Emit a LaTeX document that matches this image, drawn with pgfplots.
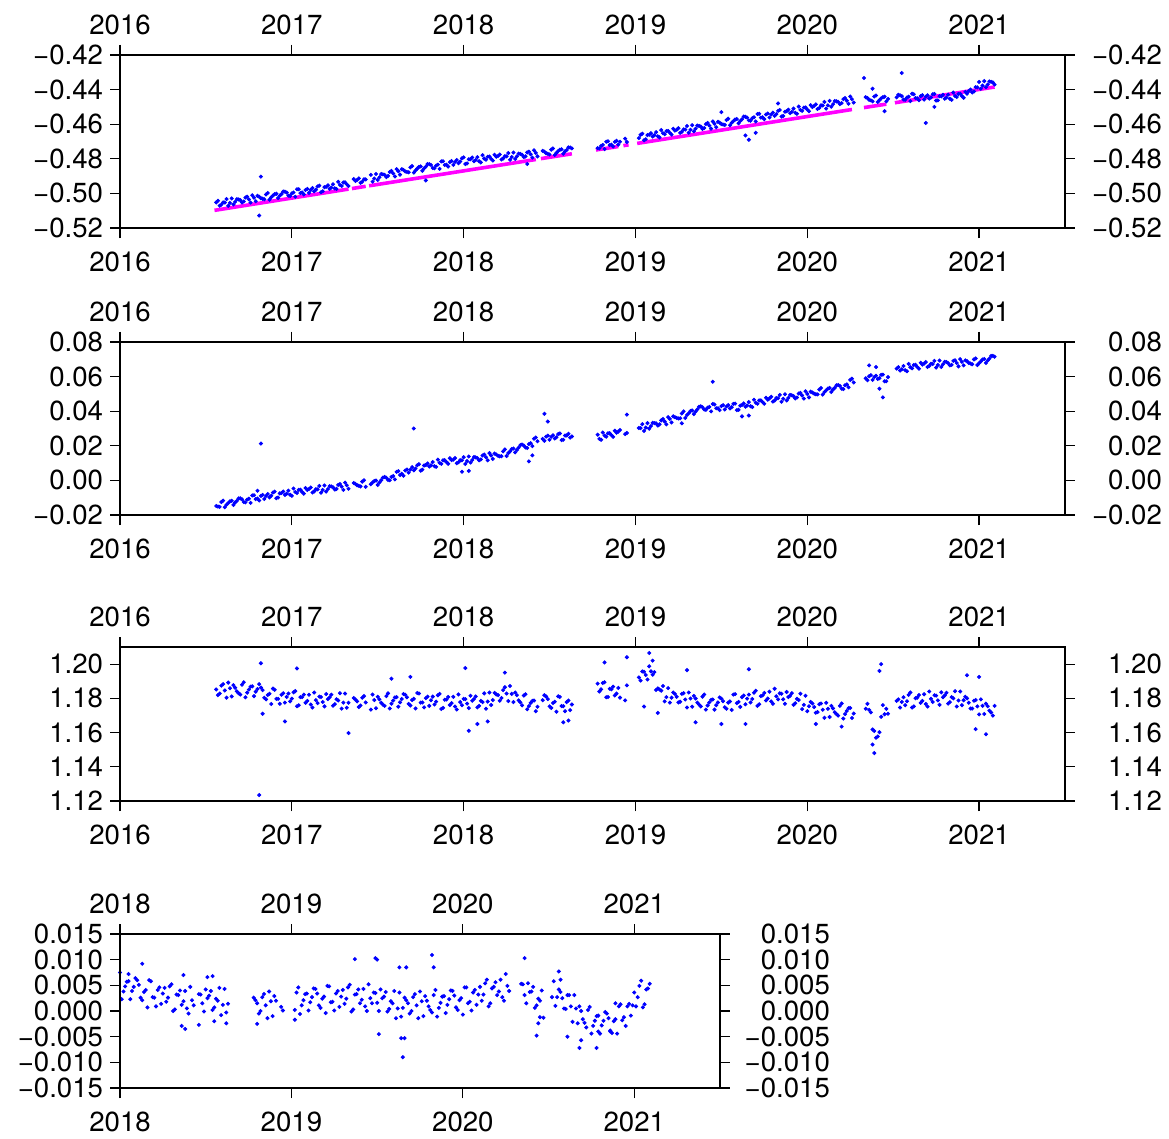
\documentclass[border=0pt]{standalone}
\usepackage{fontspec}
\setmainfont{TeX Gyre Heros}
\usepackage{pgfplots}
\usepackage{pgfplotstable}
\pgfplotsset{compat=1.18}
\definecolor{fitline}{RGB}{255,0,255}
\definecolor{dots}{RGB}{0,0,255}

% t = decimal year; a, b, c = panels 1-3; d = panel 4
\pgfplotstableread{
t a b c d
2016.56 -0.5052 -0.0148 1.1852 nan
2016.58 -0.5071 -0.0153 1.1828 nan
2016.60 -0.5052 -0.0117 1.1883 nan
2016.62 -0.5033 -0.0141 1.1804 nan
2016.64 -0.5055 -0.0121 1.1859 nan
2016.66 -0.5064 -0.0142 1.1877 nan
2016.68 -0.5033 -0.0119 1.1841 nan
2016.70 -0.5039 -0.0104 1.1822 nan
2016.72 -0.5047 -0.0125 1.1894 nan
2016.74 -0.5019 -0.0111 1.1833 nan
2016.76 -0.5053 -0.0130 1.1868 nan
2016.78 -0.5025 -0.0086 1.1813 nan
2016.80 -0.5014 -0.0105 1.1854 nan
2016.82 -0.5028 -0.0090 1.1863 nan
2016.84 -0.5034 -0.0107 1.1803 nan
2016.86 -0.4998 -0.0079 1.1820 nan
2016.88 -0.5023 -0.0089 1.1767 nan
2016.90 -0.5005 -0.0065 1.1850 nan
2016.92 -0.5027 -0.0099 1.1797 nan
2016.94 -0.5004 -0.0073 1.1821 nan
2016.96 -0.4990 -0.0084 1.1775 nan
2016.98 -0.5013 -0.0059 1.1828 nan
2017.00 -0.5000 -0.0089 1.1798 nan
2017.02 -0.5019 -0.0067 1.1842 nan
2017.04 -0.4976 -0.0055 1.1759 nan
2017.06 -0.4995 -0.0067 1.1807 nan
2017.08 -0.4980 -0.0044 1.1774 nan
2017.10 -0.4997 -0.0050 1.1821 nan
2017.12 -0.4969 -0.0070 1.1746 nan
2017.14 -0.4979 -0.0051 1.1790 nan
2017.16 -0.4955 -0.0032 1.1810 nan
2017.18 -0.4988 -0.0055 1.1779 nan
2017.20 -0.4962 -0.0065 1.1825 nan
2017.22 -0.4973 -0.0033 1.1806 nan
2017.24 -0.4947 -0.0040 1.1757 nan
2017.26 -0.4975 -0.0049 1.1795 nan
2017.28 -0.4951 -0.0021 1.1830 nan
2017.30 -0.4937 -0.0055 1.1775 nan
2017.32 -0.4947 -0.0028 1.1745 nan
2017.36 -0.4917 -0.0015 1.1802 nan
2017.38 -0.4922 -0.0028 1.1782 nan
2017.40 -0.4939 -0.0035 1.1758 nan
2017.42 -0.4918 0.0001 1.1813 nan
2017.46 -0.4893 -0.0022 1.1734 nan
2017.48 -0.4914 -0.0004 1.1790 nan
2017.50 -0.4922 -0.0026 1.1809 nan
2017.52 -0.4888 0.0001 1.1774 nan
2017.54 -0.4893 0.0020 1.1756 nan
2017.56 -0.4899 0.0003 1.1829 nan
2017.58 -0.4870 0.0020 1.1769 nan
2017.60 -0.4902 0.0006 1.1805 nan
2017.62 -0.4872 0.0053 1.1751 nan
2017.64 -0.4860 0.0038 1.1796 nan
2017.66 -0.4873 0.0057 1.1821 nan
2017.68 -0.4878 0.0045 1.1767 nan
2017.70 -0.4842 0.0077 1.1790 nan
2017.72 -0.4867 0.0069 1.1741 nan
2017.74 -0.4847 0.0094 1.1828 nan
2017.76 -0.4869 0.0062 1.1776 nan
2017.78 -0.4845 0.0089 1.1801 nan
2017.80 -0.4831 0.0080 1.1756 nan
2017.82 -0.4853 0.0106 1.1810 nan
2017.84 -0.4839 0.0078 1.1781 nan
2017.86 -0.4858 0.0102 1.1826 nan
2017.88 -0.4814 0.0116 1.1744 nan
2017.90 -0.4834 0.0106 1.1793 nan
2017.92 -0.4819 0.0128 1.1761 nan
2017.94 -0.4835 0.0120 1.1809 nan
2017.96 -0.4807 0.0099 1.1735 nan
2017.98 -0.4816 0.0117 1.1778 nan
2018.00 -0.4792 0.0134 1.1797 0.0075
2018.02 -0.4827 0.0112 1.1769 0.0038
2018.04 -0.4802 0.0103 1.1815 0.0057
2018.06 -0.4814 0.0135 1.1796 0.0023
2018.08 -0.4790 0.0129 1.1747 0.0047
2018.10 -0.4821 0.0121 1.1785 0.0060
2018.12 -0.4799 0.0149 1.1829 0.0026
2018.14 -0.4788 0.0116 1.1781 0.0037
2018.16 -0.4800 0.0144 1.1761 0.0007
2018.18 -0.4777 0.0155 1.1832 0.0058
2018.20 -0.4784 0.0142 1.1819 0.0026
2018.22 -0.4804 0.0140 1.1802 0.0041
2018.24 -0.4785 0.0179 1.1865 0.0014
2018.26 -0.4767 0.0158 1.1784 0.0045
2018.28 -0.4790 0.0181 1.1826 0.0026
2018.30 -0.4801 0.0162 1.1834 0.0052
2018.32 -0.4770 0.0189 1.1788 0.0003
2018.34 -0.4777 0.0207 1.1759 0.0031
2018.36 -0.4786 0.0190 1.1824 0.0012
2018.38 -0.4759 0.0210 1.1755 0.0039
2018.40 -0.4793 0.0198 1.1785 -0.0005
2018.42 -0.4766 0.0248 1.1725 0.0021
2018.46 -0.4754 0.0240 1.1789 0.0033
2018.48 -0.4768 0.0253 1.1811 0.0015
2018.50 -0.4775 0.0235 1.1753 0.0042
2018.52 -0.4740 0.0261 1.1773 0.0030
2018.54 -0.4766 0.0249 1.1722 0.0002
2018.56 -0.4748 0.0271 1.1808 0.0024
2018.58 -0.4771 0.0235 1.1754 0.0045
2018.60 -0.4749 0.0260 1.1778 0.0012
2018.62 -0.4735 0.0247 1.1731 -0.0003
2018.78 -0.4738 0.0264 1.1886 0.0026
2018.80 -0.4725 0.0235 1.1853 0.0015
2018.82 -0.4744 0.0259 1.1894 0.0000
2018.84 -0.4699 0.0272 1.1808 0.0033
2018.86 -0.4718 0.0262 1.1853 -0.0014
2018.88 -0.4702 0.0287 1.1817 0.0019
2018.90 -0.4718 0.0282 1.1861 0.0029
2018.94 -0.4684 0.0268 1.1788 0.0008
2019.02 -0.4680 0.0303 1.1922 0.0002
2019.04 -0.4655 0.0325 1.1957 0.0046
2019.06 -0.4687 0.0305 1.1936 0.0011
2019.08 -0.4661 0.0299 1.1987 0.0033
2019.10 -0.4671 0.0333 1.1938 0.0001
2019.12 -0.4646 0.0330 1.1849 0.0027
2019.14 -0.4676 0.0324 1.1852 0.0043
2019.16 -0.4652 0.0355 1.1872 0.0011
2019.18 -0.4640 0.0324 1.1807 0.0024
2019.20 -0.4650 0.0355 1.1775 -0.0004
2019.22 -0.4626 0.0370 1.1834 0.0048
2019.24 -0.4632 0.0361 1.1809 0.0018
2019.26 -0.4650 0.0359 1.1780 0.0034
2019.28 -0.4630 0.0399 1.1830 0.0008
2019.30 -0.4610 0.0378 1.1746 0.0041
2019.32 -0.4632 0.0401 1.1799 0.0024
2019.34 -0.4641 0.0383 1.1814 0.0051
2019.36 -0.4608 0.0410 1.1775 0.0003
2019.38 -0.4614 0.0428 1.1753 0.0033
2019.40 -0.4622 0.0410 1.1822 0.0015
2019.42 -0.4593 0.0420 1.1758 0.0043
2019.44 -0.4626 0.0399 1.1791 0.0000
2019.46 -0.4597 0.0439 1.1734 0.0025
2019.48 -0.4586 0.0417 1.1776 0.0036
2019.50 -0.4599 0.0429 1.1798 0.0016
2019.52 -0.4604 0.0410 1.1748 0.0042
2019.54 -0.4568 0.0435 1.1775 0.0028
2019.56 -0.4592 0.0423 1.1732 -0.0001
2019.58 -0.4573 0.0444 1.1825 0.0019
2019.60 -0.4595 0.0408 1.1779 0.0039
2019.62 -0.4571 0.0436 1.1807 0.0005
2019.64 -0.4557 0.0426 1.1765 -0.0011
2019.66 -0.4578 0.0453 1.1822 0.0026
2019.68 -0.4565 0.0424 1.1796 0.0015
2019.70 -0.4584 0.0449 1.1844 0.0000
2019.72 -0.4540 0.0462 1.1765 0.0033
2019.74 -0.4560 0.0453 1.1817 -0.0014
2019.76 -0.4544 0.0478 1.1788 0.0019
2019.78 -0.4561 0.0474 1.1839 0.0029
2019.80 -0.4533 0.0456 1.1768 0.0009
2019.82 -0.4542 0.0476 1.1812 -0.0003
2019.84 -0.4518 0.0494 1.1829 0.0041
2019.86 -0.4552 0.0472 1.1794 0.0006
2019.88 -0.4525 0.0462 1.1837 0.0028
2019.90 -0.4536 0.0494 1.1815 -0.0004
2019.92 -0.4510 0.0487 1.1762 0.0023
2019.94 -0.4540 0.0479 1.1797 0.0039
2019.96 -0.4517 0.0506 1.1827 0.0007
2019.98 -0.4504 0.0473 1.1762 0.0021
2020.00 -0.4515 0.0500 1.1725 -0.0007
2020.02 -0.4490 0.0513 1.1779 0.0046
2020.04 -0.4494 0.0501 1.1749 0.0018
2020.06 -0.4512 0.0497 1.1720 0.0036
2020.08 -0.4491 0.0534 1.1770 0.0012
2020.10 -0.4471 0.0511 1.1686 0.0047
2020.12 -0.4491 0.0531 1.1739 0.0032
2020.14 -0.4499 0.0511 1.1756 0.0061
2020.16 -0.4466 0.0535 1.1719 0.0015
2020.18 -0.4471 0.0551 1.1699 0.0047
2020.20 -0.4478 0.0530 1.1770 0.0031
2020.22 -0.4449 0.0550 1.1708 0.0061
2020.24 -0.4482 0.0538 1.1742 0.0020
2020.26 -0.4455 0.0588 1.1685 0.0049
2020.34 -0.4444 0.0590 1.1739 0.0053
2020.36 -0.4459 0.0602 1.1733 0.0031
2020.38 -0.4468 0.0581 1.1618 0.0054
2020.40 -0.4434 0.0605 1.1570 0.0038
2020.42 -0.4461 0.0591 1.1602 0.0006
2020.44 -0.4444 0.0611 1.1760 0.0024
2020.46 -0.4468 0.0573 1.1739 0.0040
2020.52 -0.4445 0.0646 1.1785 0.0027
2020.54 -0.4433 0.0635 1.1746 0.0010
2020.56 -0.4457 0.0661 1.1806 0.0042
2020.58 -0.4446 0.0631 1.1783 0.0025
2020.60 -0.4467 0.0654 1.1834 0.0004
2020.62 -0.4427 0.0667 1.1753 0.0031
2020.64 -0.4450 0.0656 1.1804 -0.0021
2020.66 -0.4438 0.0680 1.1774 0.0005
2020.68 -0.4458 0.0675 1.1824 0.0009
2020.70 -0.4433 0.0656 1.1752 -0.0016
2020.72 -0.4446 0.0674 1.1797 -0.0032
2020.74 -0.4425 0.0691 1.1818 0.0008
2020.76 -0.4462 0.0667 1.1788 -0.0029
2020.78 -0.4439 0.0656 1.1835 -0.0010
2020.80 -0.4453 0.0686 1.1817 -0.0044
2020.82 -0.4429 0.0678 1.1769 -0.0019
2020.84 -0.4459 0.0668 1.1807 -0.0005
2020.86 -0.4437 0.0694 1.1842 -0.0038
2020.88 -0.4425 0.0659 1.1787 -0.0020
2020.90 -0.4437 0.0685 1.1760 -0.0044
2020.92 -0.4413 0.0694 1.1809 0.0013
2020.94 -0.4408 0.0679 1.1774 -0.0012
2020.96 -0.4417 0.0671 1.1740 0.0009
2020.98 -0.4386 0.0705 1.1790 -0.0009
2021.00 -0.4356 0.0678 1.1706 0.0036
2021.02 -0.4377 0.0699 1.1756 0.0027
2021.04 -0.4386 0.0679 1.1769 0.0059
2021.06 -0.4353 0.0704 1.1728 0.0013
2021.08 -0.4358 0.0720 1.1699 0.0044
}\gps

% the days in between
\pgfplotstableread{
t a b c d
2016.57 -0.5043 -0.0151 1.1819 nan
2016.59 -0.5065 -0.0125 1.1874 nan
2016.61 -0.5053 -0.0155 1.1846 nan
2016.63 -0.5072 -0.0131 1.1892 nan
2016.65 -0.5029 -0.0118 1.1811 nan
2016.67 -0.5049 -0.0128 1.1862 nan
2016.69 -0.5035 -0.0104 1.1830 nan
2016.71 -0.5052 -0.0109 1.1879 nan
2016.73 -0.5024 -0.0127 1.1806 nan
2016.75 -0.5034 -0.0106 1.1851 nan
2016.77 -0.5011 -0.0087 1.1870 nan
2016.79 -0.5045 -0.0108 1.1839 nan
2016.81 -0.5019 -0.0116 1.1883 nan
2016.83 -0.5031 -0.0084 1.1848 nan
2016.85 -0.5006 -0.0090 1.1794 nan
2016.87 -0.5036 -0.0098 1.1827 nan
2016.89 -0.5013 -0.0070 1.1857 nan
2016.91 -0.5002 -0.0103 1.1797 nan
2016.93 -0.5013 -0.0075 1.1768 nan
2016.95 -0.4989 -0.0064 1.1830 nan
2016.97 -0.4995 -0.0077 1.1808 nan
2016.99 -0.5015 -0.0083 1.1782 nan
2017.01 -0.4995 -0.0047 1.1835 nan
2017.03 -0.4976 -0.0073 1.1754 nan
2017.05 -0.4998 -0.0054 1.1807 nan
2017.07 -0.5006 -0.0077 1.1822 nan
2017.09 -0.4974 -0.0055 1.1785 nan
2017.11 -0.4980 -0.0041 1.1764 nan
2017.13 -0.4988 -0.0064 1.1834 nan
2017.15 -0.4960 -0.0052 1.1772 nan
2017.17 -0.4993 -0.0071 1.1808 nan
2017.19 -0.4964 -0.0029 1.1753 nan
2017.21 -0.4953 -0.0050 1.1796 nan
2017.23 -0.4966 -0.0035 1.1821 nan
2017.25 -0.4971 -0.0053 1.1766 nan
2017.27 -0.4933 -0.0026 1.1788 nan
2017.29 -0.4957 -0.0036 1.1740 nan
2017.31 -0.4936 -0.0013 1.1828 nan
2017.33 -0.4957 -0.0048 1.1774 nan
2017.37 -0.4928 -0.0020 1.1793 nan
2017.39 -0.4913 -0.0031 1.1749 nan
2017.41 -0.4933 -0.0007 1.1804 nan
2017.43 -0.4919 -0.0037 1.1776 nan
2017.47 -0.4932 -0.0012 1.1822 nan
2017.49 -0.4888 -0.0001 1.1742 nan
2017.51 -0.4907 -0.0012 1.1794 nan
2017.53 -0.4890 0.0016 1.1763 nan
2017.55 -0.4906 0.0015 1.1813 nan
2017.57 -0.4876 0.0001 1.1741 nan
2017.59 -0.4885 0.0025 1.1787 nan
2017.61 -0.4860 0.0049 1.1807 nan
2017.63 -0.4892 0.0031 1.1777 nan
2017.65 -0.4865 0.0027 1.1825 nan
2017.67 -0.4876 0.0063 1.1806 nan
2017.69 -0.4850 0.0062 1.1758 nan
2017.71 -0.4880 0.0058 1.1797 nan
2017.73 -0.4857 0.0088 1.1831 nan
2017.75 -0.4844 0.0056 1.1775 nan
2017.77 -0.4855 0.0086 1.1747 nan
2017.79 -0.4830 0.0098 1.1810 nan
2017.81 -0.4836 0.0087 1.1789 nan
2017.83 -0.4855 0.0082 1.1764 nan
2017.85 -0.4834 0.0120 1.1818 nan
2017.87 -0.4815 0.0096 1.1738 nan
2017.89 -0.4836 0.0117 1.1792 nan
2017.91 -0.4845 0.0096 1.1808 nan
2017.93 -0.4813 0.0117 1.1772 nan
2017.95 -0.4818 0.0129 1.1752 nan
2017.97 -0.4826 0.0105 1.1823 nan
2017.99 -0.4797 0.0116 1.1760 nan
2018.01 -0.4830 0.0095 1.1795 0.0023
2018.03 -0.4803 0.0138 1.1743 0.0048
2018.05 -0.4793 0.0118 1.1786 0.0058
2018.07 -0.4807 0.0133 1.1811 0.0039
2018.09 -0.4814 0.0116 1.1756 0.0064
2018.11 -0.4779 0.0144 1.1778 0.0051
2018.13 -0.4805 0.0134 1.1739 0.0021
2018.15 -0.4787 0.0158 1.1834 0.0041
2018.17 -0.4810 0.0124 1.1790 0.0060
2018.19 -0.4788 0.0150 1.1823 0.0027
2018.21 -0.4775 0.0139 1.1786 0.0009
2018.23 -0.4798 0.0168 1.1848 0.0046
2018.25 -0.4786 0.0141 1.1828 0.0034
2018.27 -0.4806 0.0168 1.1872 0.0018
2018.29 -0.4764 0.0184 1.1778 0.0048
2018.31 -0.4786 0.0176 1.1819 0.0000
2018.33 -0.4772 0.0204 1.1777 0.0032
2018.35 -0.4790 0.0202 1.1816 0.0040
2018.37 -0.4763 0.0188 1.1736 0.0019
2018.39 -0.4774 0.0215 1.1773 0.0005
2018.41 -0.4751 0.0241 1.1787 0.0047
2018.43 -0.4786 0.0226 1.1751 0.0011
2018.47 -0.4759 0.0229 1.1818 0.0032
2018.49 -0.4771 0.0259 1.1796 -0.0001
2018.51 -0.4747 0.0252 1.1744 0.0025
2018.53 -0.4778 0.0242 1.1780 0.0039
2018.55 -0.4756 0.0268 1.1812 0.0007
2018.57 -0.4745 0.0233 1.1755 0.0020
2018.59 -0.4757 0.0259 1.1725 -0.0008
2018.61 -0.4734 0.0269 1.1787 0.0043
2018.63 -0.4740 0.0254 1.1764 0.0014
2018.79 -0.4740 0.0240 1.1840 0.0021
2018.81 -0.4720 0.0277 1.1890 -0.0005
2018.83 -0.4701 0.0253 1.1806 0.0027
2018.85 -0.4721 0.0273 1.1856 0.0011
2018.87 -0.4729 0.0252 1.1868 0.0038
2018.89 -0.4696 0.0276 1.1828 -0.0010
2018.91 -0.4701 0.0291 1.1804 0.0020
2018.95 -0.4703 0.0274 1.1876 0.0001
2019.03 -0.4661 0.0302 1.1904 0.0036
2019.05 -0.4693 0.0286 1.1955 -0.0006
2019.07 -0.4663 0.0331 1.1910 0.0021
2019.09 -0.4652 0.0314 1.1958 0.0034
2019.11 -0.4664 0.0331 1.1953 0.0017
2019.13 -0.4670 0.0317 1.1858 0.0044
2019.15 -0.4634 0.0347 1.1845 0.0034
2019.17 -0.4658 0.0340 1.1782 0.0006
2019.19 -0.4639 0.0366 1.1860 0.0028
2019.21 -0.4660 0.0335 1.1804 0.0049
2019.23 -0.4637 0.0365 1.1825 0.0017
2019.25 -0.4623 0.0358 1.1776 0.0001
2019.27 -0.4644 0.0387 1.1826 0.0039
2019.29 -0.4631 0.0361 1.1793 0.0028
2019.31 -0.4649 0.0388 1.1834 0.0014
2019.33 -0.4606 0.0404 1.1751 0.0046
2019.35 -0.4626 0.0397 1.1799 -0.0001
2019.37 -0.4610 0.0425 1.1764 0.0032
2019.39 -0.4627 0.0423 1.1810 0.0042
2019.41 -0.4599 0.0408 1.1734 0.0022
2019.43 -0.4608 0.0425 1.1776 0.0009
2019.45 -0.4584 0.0442 1.1793 0.0052
2019.47 -0.4617 0.0417 1.1760 0.0015
2019.49 -0.4591 0.0406 1.1805 0.0035
2019.51 -0.4602 0.0435 1.1783 0.0000
2019.53 -0.4576 0.0427 1.1739 0.0025
2019.55 -0.4606 0.0416 1.1782 0.0037
2019.57 -0.4582 0.0442 1.1822 0.0004
2019.59 -0.4570 0.0406 1.1772 0.0015
2019.61 -0.4581 0.0432 1.1750 -0.0014
2019.63 -0.4556 0.0445 1.1816 0.0036
2019.65 -0.4562 0.0433 1.1798 0.0006
2019.67 -0.4580 0.0429 1.1776 0.0021
2019.69 -0.4560 0.0466 1.1833 -0.0005
2019.71 -0.4541 0.0443 1.1756 0.0027
2019.73 -0.4562 0.0463 1.1813 0.0011
2019.75 -0.4571 0.0443 1.1832 0.0038
2019.77 -0.4538 0.0467 1.1799 -0.0010
2019.79 -0.4544 0.0483 1.1782 0.0020
2019.81 -0.4552 0.0462 1.1856 0.0002
2019.83 -0.4523 0.0475 1.1794 0.0031
2019.85 -0.4556 0.0455 1.1827 -0.0011
2019.87 -0.4528 0.0498 1.1768 0.0016
2019.89 -0.4516 0.0477 1.1808 0.0029
2019.91 -0.4529 0.0492 1.1830 0.0012
2019.93 -0.4534 0.0474 1.1771 0.0040
2019.95 -0.4498 0.0502 1.1790 0.0030
2019.97 -0.4523 0.0491 1.1737 0.0002
2019.99 -0.4503 0.0515 1.1815 0.0025
2020.01 -0.4525 0.0480 1.1754 0.0046
2020.03 -0.4501 0.0508 1.1770 0.0015
2020.05 -0.4485 0.0498 1.1716 0.0001
2020.07 -0.4506 0.0525 1.1766 0.0041
2020.09 -0.4492 0.0496 1.1733 0.0032
2020.11 -0.4510 0.0521 1.1774 0.0020
2020.13 -0.4465 0.0534 1.1691 0.0054
2020.15 -0.4484 0.0525 1.1741 0.0009
2020.17 -0.4468 0.0550 1.1708 0.0044
2020.19 -0.4484 0.0546 1.1756 0.0056
2020.21 -0.4455 0.0528 1.1682 0.0038
2020.23 -0.4464 0.0555 1.1726 0.0027
2020.25 -0.4440 0.0581 1.1744 0.0072
2020.27 -0.4475 0.0566 1.1711 0.0039
2020.35 -0.4449 0.0579 1.1768 0.0052
2020.37 -0.4462 0.0608 1.1718 0.0015
2020.39 -0.4440 0.0598 1.1609 0.0037
2020.41 -0.4472 0.0586 1.1577 0.0047
2020.43 -0.4451 0.0610 1.1692 0.0011
2020.45 -0.4441 0.0573 1.1707 0.0020
2020.47 -0.4454 0.0597 1.1710 -0.0013
2020.53 -0.4430 0.0655 1.1794 0.0058
2020.55 -0.4438 0.0642 1.1779 0.0027
2020.57 -0.4459 0.0637 1.1760 0.0037
2020.59 -0.4441 0.0673 1.1820 0.0005
2020.61 -0.4424 0.0648 1.1746 0.0031
2020.63 -0.4449 0.0668 1.1801 0.0009
2020.65 -0.4461 0.0646 1.1819 0.0031
2020.67 -0.4432 0.0669 1.1785 -0.0024
2020.69 -0.4441 0.0684 1.1767 0.0000
2020.71 -0.4452 0.0662 1.1840 -0.0023
2020.73 -0.4427 0.0673 1.1779 0.0002
2020.75 -0.4463 0.0652 1.1816 -0.0044
2020.77 -0.4438 0.0693 1.1762 -0.0019
2020.79 -0.4430 0.0671 1.1806 -0.0009
2020.81 -0.4446 0.0684 1.1832 -0.0028
2020.83 -0.4453 0.0665 1.1778 -0.0002
2020.85 -0.4417 0.0691 1.1800 -0.0014
2020.87 -0.4443 0.0679 1.1752 -0.0043
2020.89 -0.4424 0.0701 1.1840 -0.0016
2020.91 -0.4447 0.0665 1.1789 0.0009
2020.93 -0.4424 0.0689 1.1800 -0.0018
2020.95 -0.4399 0.0676 1.1741 -0.0029
2020.97 -0.4411 0.0699 1.1786 0.0014
2020.99 -0.4387 0.0667 1.1753 0.0011
2021.01 -0.4395 0.0688 1.1794 0.0009
2021.03 -0.4351 0.0702 1.1708 0.0049
2021.05 -0.4371 0.0693 1.1754 0.0007
2021.07 -0.4355 0.0719 1.1717 0.0042
2021.09 -0.4371 0.0715 1.1756 0.0053
}\gpsb

\pgfplotsset{
  panel/.style={
    scale only axis, anchor=north west,
    axis line style={line width=1.3pt, black},
    tick align=outside, major tick length=5pt,
    tick style={black, line width=0.6pt},
    tick label style={font=\fontsize{13.8}{15}\selectfont},
    scaled ticks=false, clip=true,
  },
  lower/.style={xticklabel pos=lower, yticklabel pos=left, xtick pos=both, ytick pos=both,
    xticklabel style={yshift=-3.5pt}},
  upper/.style={xticklabel pos=upper, yticklabel pos=right, xtick pos=both, ytick pos=both,
    xticklabel style={yshift=1.5pt}, yticklabel style={anchor=east, xshift=#1}},
  upper/.default=47pt,
  years/.style={xmin=2016, xmax=2021.5, xtick={2016,2017,2018,2019,2020,2021},
    xticklabels={2016,2017,2018,2019,2020,2021}, width=472.5pt},
  pts/.style={only marks, mark=*, mark size=0.8pt, color=dots,
    mark options={draw=none, fill=dots}},
  p1/.style={panel, years, height=86.5pt, at={(60pt,-27.5pt)}, ymin=-0.52, ymax=-0.42,
    ytick={-0.52,-0.50,-0.48,-0.46,-0.44,-0.42},
    yticklabels={−0.52,−0.50,−0.48,−0.46,−0.44,−0.42}},
  p2/.style={panel, years, height=86.5pt, at={(60pt,-171pt)}, ymin=-0.02, ymax=0.08,
    ytick={-0.02,0,0.02,0.04,0.06,0.08},
    yticklabels={−0.02,0.00,0.02,0.04,0.06,0.08}},
  p3/.style={panel, years, height=77pt, at={(60pt,-323.5pt)}, ymin=1.12, ymax=1.21,
    ytick={1.12,1.14,1.16,1.18,1.20},
    yticklabels={1.12,1.14,1.16,1.18,1.20}},
  p4/.style={panel, width=300pt, height=77pt, at={(60pt,-467pt)},
    xmin=2018, xmax=2021.5, xtick={2018,2019,2020,2021},
    xticklabels={2018,2019,2020,2021},
    ymin=-0.015, ymax=0.015,
    ytick={-0.015,-0.01,-0.005,0,0.005,0.01,0.015},
    yticklabels={−0.015,−0.010,−0.005,0.000,0.005,0.010,0.015}},
}

\begin{document}
\begin{tikzpicture}
\useasboundingbox (0,0) rectangle (584.5pt,-569.5pt);

% panel 1
\begin{axis}[p1, lower]
\addplot[pts] table[x=t, y=a] {\gps};
\addplot[pts] table[x=t, y=a] {\gpsb};
\addplot[pts] coordinates {(2016.82,-0.4903) (2016.81,-0.5128) (2017.78,-0.4925)
  (2018.37,-0.4830) (2019.50,-0.4530) (2019.64,-0.4665) (2019.66,-0.4690)
  (2019.70,-0.4650) (2019.83,-0.4480) (2020.33,-0.4333) (2020.38,-0.4395)
  (2020.45,-0.4525) (2020.55,-0.4304) (2020.69,-0.4593) (2020.74,-0.4500)};
\addplot[fitline, line width=1.8pt, unbounded coords=jump] coordinates {
  (2016.55,-0.5098) (2017.33,-0.4975) (2017.34,nan) (2017.35,-0.4972) (2017.43,-0.4959)
  (2017.44,nan) (2017.45,-0.4956) (2018.42,-0.4804) (2018.43,nan) (2018.45,-0.4799)
  (2018.63,-0.4771) (2018.70,nan) (2018.77,-0.4749) (2018.90,-0.4729) (2018.91,nan)
  (2018.93,-0.4724) (2018.96,-0.4719) (2018.98,nan) (2019.01,-0.4711) (2020.26,-0.4515)
  (2020.30,nan) (2020.33,-0.4504) (2020.46,-0.4484) (2020.48,nan) (2020.51,-0.4476)
  (2021.09,-0.4385)};
\end{axis}
\begin{axis}[p1, upper]
\end{axis}

% panel 2
\begin{axis}[p2, lower]
\addplot[pts] table[x=t, y=b] {\gps};
\addplot[pts] table[x=t, y=b] {\gpsb};
\addplot[pts] coordinates {(2016.82,0.0213) (2016.80,-0.0060) (2017.71,0.0300)
  (2017.99,0.0050) (2018.03,0.0055) (2018.38,0.0110) (2018.40,0.0145)
  (2018.47,0.0385) (2018.49,0.0340) (2018.95,0.0380) (2019.27,0.0330)
  (2019.45,0.0570) (2019.62,0.0370) (2019.66,0.0375) (2020.36,0.0665)
  (2020.40,0.0655) (2020.42,0.0530) (2020.44,0.0480)};
\end{axis}
\begin{axis}[p2, upper]
\end{axis}

% panel 3
\begin{axis}[p3, lower]
\addplot[pts] table[x=t, y=c] {\gps};
\addplot[pts] table[x=t, y=c] {\gpsb};
\addplot[pts] coordinates {(2016.82,1.2005) (2016.81,1.1235) (2016.83,1.1710)
  (2016.96,1.1665) (2017.03,1.1975) (2017.33,1.1597) (2017.58,1.1915)
  (2017.69,1.1925) (2018.01,1.1977) (2018.03,1.1610) (2018.08,1.1650)
  (2018.14,1.1665) (2018.24,1.1950) (2018.58,1.1660) (2018.61,1.1670)
  (2018.82,1.2010) (2018.95,1.2040) (2019.05,1.1752) (2019.08,1.2065)
  (2019.10,1.2020) (2019.13,1.1715) (2019.30,1.1965) (2019.35,1.1660)
  (2019.50,1.1650) (2019.64,1.1650) (2019.66,1.1970) (2020.05,1.1650)
  (2020.20,1.1635) (2020.38,1.1530) (2020.39,1.1480) (2020.42,1.1960)
  (2020.43,1.2000) (2020.93,1.1935) (2020.98,1.1620) (2021.00,1.1925)
  (2021.04,1.1590)};
\end{axis}
\begin{axis}[p3, upper]
\end{axis}

% panel 4
\begin{axis}[p4, lower]
\addplot[pts] table[x=t, y=d] {\gps};
\addplot[pts] table[x=t, y=d] {\gpsb};
\addplot[pts] coordinates {(2018.05,0.0072) (2018.13,0.0092) (2018.36,-0.0029)
  (2018.37,0.0070) (2018.38,-0.0035) (2018.46,-0.0027) (2018.51,0.0066)
  (2018.54,0.0068) (2018.55,-0.0020) (2018.62,-0.0024) (2018.80,-0.0025)
  (2019.02,-0.0017) (2019.37,0.0101) (2019.49,0.0103) (2019.50,0.0100)
  (2019.51,-0.0045) (2019.63,0.0085) (2019.64,-0.0053) (2019.65,-0.0090)
  (2019.66,-0.0053) (2019.67,0.0085) (2019.82,0.0109) (2019.83,0.0085)
  (2020.36,0.0103) (2020.43,-0.0048) (2020.44,-0.0024) (2020.45,-0.0012)
  (2020.56,0.0077) (2020.57,0.0061) (2020.61,-0.0050) (2020.68,-0.0072)
  (2020.69,-0.0057) (2020.78,-0.0072) (2020.79,-0.0040) (2020.86,-0.0040)
  (2020.89,0.0015)};
\end{axis}
\begin{axis}[p4, upper=53.5pt]
\end{axis}
\end{tikzpicture}
\end{document}
